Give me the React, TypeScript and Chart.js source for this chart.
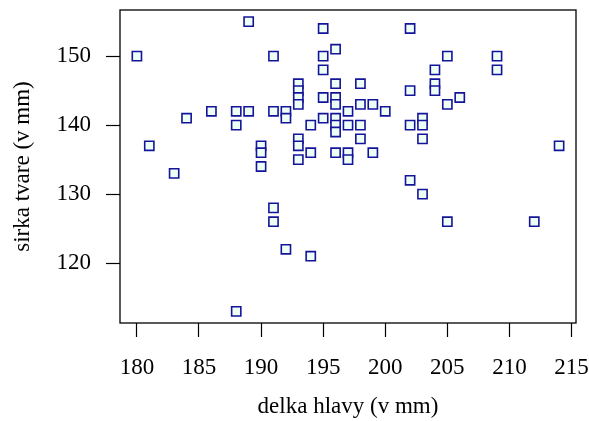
import React, { useEffect, useRef } from "react";
import { Chart, registerables } from "chart.js";

Chart.register(...registerables);

const headLength = [
  180, 181, 183, 184, 186, 188, 188, 188, 189, 189, 190, 190, 190, 191, 191, 191, 191,
  192, 192, 192, 193, 193, 193, 193, 193, 193, 193, 194, 194, 194, 195, 195, 195, 195,
  195, 196, 196, 196, 196, 196, 196, 196, 196, 197, 197, 197, 197, 198, 198, 198, 198,
  199, 199, 200, 202, 202, 202, 202, 203, 203, 203, 203, 204, 204, 204, 205, 205, 205,
  206, 209, 209, 212, 214,
];
const faceWidth = [
  150, 137, 133, 141, 142, 142, 140, 113, 155, 142, 137, 136, 134, 150, 142, 128, 126,
  142, 141, 122, 146, 145, 144, 143, 138, 137, 135, 140, 136, 121, 154, 150, 148, 144,
  141, 151, 146, 144, 143, 141, 140, 139, 136, 142, 140, 136, 135, 146, 143, 140, 138,
  143, 136, 142, 154, 145, 140, 132, 141, 140, 138, 130, 148, 146, 145, 150, 143, 126,
  144, 150, 148, 126, 137,
];
const xTicks = [180, 185, 190, 195, 200, 205, 210, 215];
const yTicks = [120, 130, 140, 150];
const xTitle = "delka hlavy (v mm)";
const yTitle = "sirka tvare (v mm)";

const FONT = "'Liberation Serif', 'DejaVu Serif', serif";

function zeroPad(s: any) {
  s.paddingLeft = 0;
  s.paddingRight = 0;
  s.paddingTop = 0;
  s.paddingBottom = 0;
}

export default function App() {
  const ref = useRef<HTMLCanvasElement | null>(null);
  useEffect(() => {
    if (!ref.current) return;
    const points = headLength.map((x, i) => ({ x, y: faceWidth[i] }));
    const boxPlugin = {
      id: "box",
      afterDraw(chart: any) {
        const { ctx, chartArea } = chart;
        ctx.save();
        ctx.strokeStyle = "#000";
        ctx.lineWidth = 1.3;
        ctx.strokeRect(chartArea.left, chartArea.top, chartArea.right - chartArea.left, chartArea.bottom - chartArea.top);
        ctx.restore();
      },
    };
    const chart = new Chart(ref.current, {
      type: "scatter",
      data: {
        datasets: [
          {
            data: points,
            pointStyle: "rect",
            pointRadius: 6.5,
            pointHoverRadius: 6.5,
            borderWidth: 1.6,
            borderColor: "#14149a",
            backgroundColor: "#eefff6",
          },
        ],
      },
      options: {
        responsive: false,
        animation: false,
        layout: { padding: { top: 10, right: 13, left: 0, bottom: 0 } },
        plugins: { legend: { display: false }, tooltip: { enabled: false } },
        scales: {
          x: {
            type: "linear",
            min: 178.64,
            max: 215.36,
            afterFit: (s: any) => {
              s.height = 98;
              zeroPad(s);
            },
            afterBuildTicks: (s: any) => {
              s.ticks = xTicks.map((v) => ({ value: v }));
            },
            border: { display: false },
            grid: { drawOnChartArea: false, drawTicks: true, tickLength: 14, tickColor: "#000", tickWidth: 1.2 },
            ticks: { color: "#000", font: { family: FONT, size: 23 }, padding: 17, maxRotation: 0, autoSkip: false },
            title: { display: true, text: xTitle, color: "#000", font: { family: FONT, size: 23 }, padding: { top: 0, bottom: 0 } },
          },
          y: {
            type: "linear",
            min: 111.32,
            max: 156.68,
            afterFit: (s: any) => {
              s.width = 120;
              zeroPad(s);
            },
            afterBuildTicks: (s: any) => {
              s.ticks = yTicks.map((v) => ({ value: v }));
            },
            border: { display: false },
            grid: { drawOnChartArea: false, drawTicks: true, tickLength: 14, tickColor: "#000", tickWidth: 1.2 },
            ticks: { color: "#000", font: { family: FONT, size: 23 }, padding: 15, autoSkip: false },
            title: { display: true, text: yTitle, color: "#000", font: { family: FONT, size: 23 }, padding: { top: 9, bottom: 0 } },
          },
        },
      },
      plugins: [boxPlugin],
    });
    return () => chart.destroy();
  }, []);
  return (
    <div style={{ position: "absolute", left: 0, top: 0, width: 589, height: 421, background: "#fff" }}>
      <canvas ref={ref} width={589} height={421} />
    </div>
  );
}
